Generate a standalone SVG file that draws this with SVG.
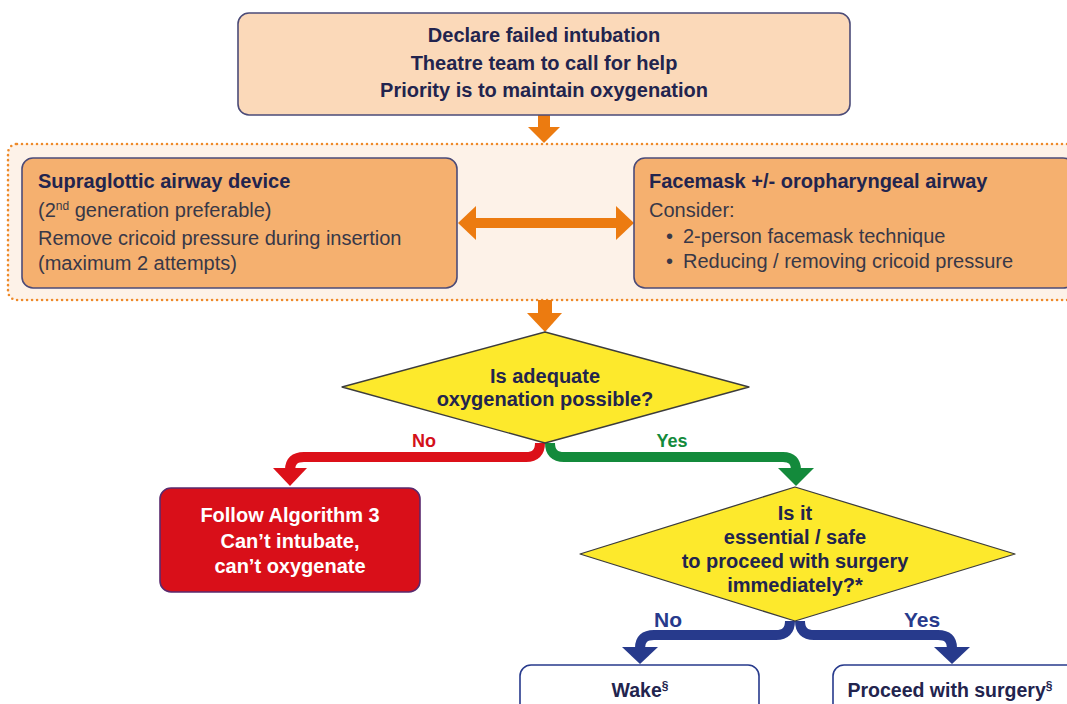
<svg xmlns="http://www.w3.org/2000/svg" width="1067" height="704" viewBox="0 0 1067 704">
<style>
text{font-family:"Liberation Sans",Arial,sans-serif}
.b{font-weight:bold}
.navy{fill:#22244e}
.body{fill:#383848}
.box{stroke:#4b4b78;stroke-width:1.6}
.dia{fill:#fde92c;stroke:#3c3c3c;stroke-width:1.3;stroke-linejoin:round}
.or{fill:#ec7b10}
.red{fill:none;stroke:#dc1019;stroke-width:10}
.grn{fill:none;stroke:#138a3b;stroke-width:10}
.blu{fill:none;stroke:#273a8c;stroke-width:10}
</style>
<rect width="1067" height="704" fill="#ffffff"/>
<g id="container">
<rect x="8" y="144" width="1075" height="156" rx="9" fill="#fdf2e8" stroke="#ee8a2a" stroke-width="2.6" stroke-dasharray="0 5" stroke-linecap="round"/>
</g>
<g id="connectors">
<rect x="538" y="114" width="12" height="14" class="or"/>
<polygon points="528,127 560,127 544,143" class="or"/>
<rect x="538" y="300" width="14" height="14" class="or"/>
<polygon points="527,313 562,313 545,332" class="or"/>
<rect x="474" y="218" width="144" height="10" class="or"/>
<polygon points="458,223 476,206 476,240" class="or"/>
<polygon points="634,223 616,206 616,240" class="or"/>
<path d="M540 443 Q540 457 526 457 L304 457 Q290 457 290 470" class="red"/>
<polygon points="273,468 307,468 290,486" fill="#dc1019"/>
<path d="M550 443 Q550 457 564 457 L783 457 Q796 457 796 470" class="grn"/>
<polygon points="778,468 814,468 796,486" fill="#138a3b"/>
<path d="M790 621 Q790 635 776 635 L654 635 Q640 635 640 648" class="blu"/>
<polygon points="622,647 658,647 640,664" fill="#273a8c"/>
<path d="M800 621 Q800 635 814 635 L938 635 Q952 635 952 648" class="blu"/>
<polygon points="934,647 970,647 952,664" fill="#273a8c"/>
<text x="424" y="447" class="b" font-size="18" fill="#d4101a" text-anchor="middle">No</text>
<text x="672" y="447" class="b" font-size="18" fill="#138a3b" text-anchor="middle">Yes</text>
<text x="668" y="627" class="b" font-size="21" fill="#273a8c" text-anchor="middle">No</text>
<text x="922" y="627" class="b" font-size="21" fill="#273a8c" text-anchor="middle">Yes</text>
</g>
<g id="top">
<rect x="238" y="13" width="612" height="102" rx="11" fill="#fbd9b9" class="box"/>
<text class="b navy" font-size="20" text-anchor="middle"><tspan x="544" y="42">Declare failed intubation</tspan><tspan x="544" y="70">Theatre team to call for help</tspan><tspan x="544" y="97">Priority is to maintain oxygenation</tspan></text>
</g>
<g id="sad">
<rect x="22" y="158" width="435" height="130" rx="11" fill="#f5b06f" class="box"/>
<text x="38" y="188" class="b navy" font-size="20">Supraglottic airway device</text>
<text x="38" y="217" class="body" font-size="20">(2<tspan font-size="12" dy="-7">nd</tspan><tspan dy="7"> generation preferable)</tspan></text>
<text x="38" y="245" class="body" font-size="20">Remove cricoid pressure during insertion</text>
<text x="38" y="270" class="body" font-size="20">(maximum 2 attempts)</text>
</g>
<g id="facemask">
<rect x="634" y="158" width="440" height="130" rx="11" fill="#f5b06f" class="box"/>
<text x="649" y="188" class="b navy" font-size="20">Facemask +/- oropharyngeal airway</text>
<text x="649" y="217" class="body" font-size="20">Consider:</text>
<text x="666" y="243" class="body" font-size="20">•</text>
<text x="683" y="243" class="body" font-size="20">2-person facemask technique</text>
<text x="666" y="268" class="body" font-size="20">•</text>
<text x="683" y="268" class="body" font-size="20">Reducing / removing cricoid pressure</text>
</g>
<g id="decision1">
<polygon points="545,332 749,387 545,443 342,387" class="dia"/>
<text class="b navy" font-size="20" text-anchor="middle"><tspan x="545" y="383">Is adequate</tspan><tspan x="545" y="406">oxygenation possible?</tspan></text>
</g>
<g id="algorithm3">
<rect x="160" y="488" width="260" height="104" rx="11" fill="#d90f19" stroke="#5a2a6e" stroke-width="1.6"/>
<text class="b" font-size="20" fill="#ffffff" text-anchor="middle"><tspan x="290" y="522">Follow Algorithm 3</tspan><tspan x="290" y="548">Can’t intubate,</tspan><tspan x="290" y="573">can’t oxygenate</tspan></text>
</g>
<g id="decision2">
<polygon points="795,487 1015,554 795,621 580,554" class="dia"/>
<text class="b navy" font-size="20" text-anchor="middle"><tspan x="795" y="520">Is it</tspan><tspan x="795" y="544">essential / safe</tspan><tspan x="795" y="568">to proceed with surgery</tspan><tspan x="795" y="592">immediately?*</tspan></text>
</g>
<g id="wake">
<rect x="520" y="665" width="239" height="60" rx="11" fill="#ffffff" stroke="#273a8c" stroke-width="1.6"/>
<text x="640" y="697" class="b navy" font-size="19.5" text-anchor="middle">Wake<tspan font-size="12" dy="-7">§</tspan></text>
</g>
<g id="proceed">
<rect x="833" y="665" width="245" height="60" rx="11" fill="#ffffff" stroke="#273a8c" stroke-width="1.6"/>
<text x="950" y="697" class="b navy" font-size="19.5" text-anchor="middle">Proceed with surgery<tspan font-size="12" dy="-7">§</tspan></text>
</g>
</svg>
